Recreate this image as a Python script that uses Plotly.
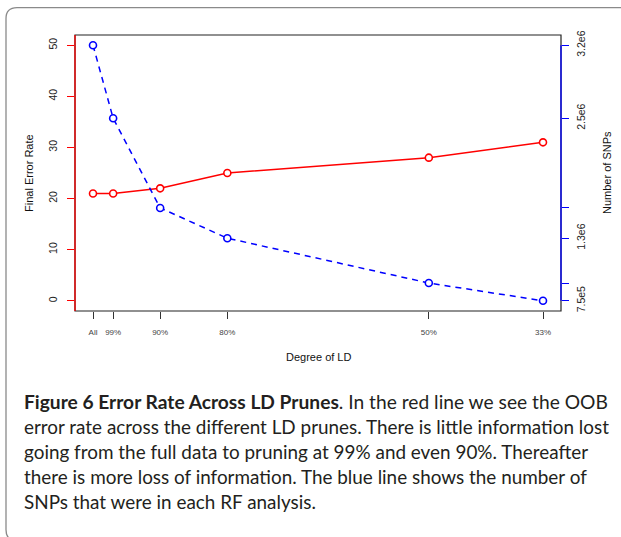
import plotly.graph_objects as go

# ---- data ----
ld_labels = ["All", "99%", "90%", "80%", "50%", "33%"]
ld_pos = [0, 3, 10, 20, 50, 67]          # horizontal placement used in the original plot
error_rate = [21, 21, 22, 25, 28, 31]
n_snps = [3.2e6, 2.5e6, 1.64e6, 1.35e6, 0.92e6, 0.75e6]
snp_tick_text = ["3.2e6", "2.5e6", "", "1.3e6", "", "7.5e5"]

W, H = 621, 537
L, R, T, B = 75, 561, 34.7, 311


def px(x):
    return (x - L) / (R - L)


def py(y):
    return (B - y) / (B - T)


fig = go.Figure()
fig.add_trace(go.Scatter(
    x=ld_pos, y=error_rate, mode="lines+markers", yaxis="y",
    line=dict(color="#ff0000", width=1.5),
    marker=dict(symbol="circle", size=7, color="white",
                line=dict(color="#ff0000", width=1.6)),
    showlegend=False, cliponaxis=False))
fig.add_trace(go.Scatter(
    x=ld_pos, y=n_snps, mode="lines+markers", yaxis="y2",
    line=dict(color="#0000ff", width=1.5, dash="6px,5px"),
    marker=dict(symbol="circle", size=7, color="white",
                line=dict(color="#0000ff", width=1.6)),
    showlegend=False, cliponaxis=False))

snp_lo, snp_hi = min(n_snps), max(n_snps)
pad = (snp_hi - snp_lo) * 0.04
xpad = (max(ld_pos) - min(ld_pos)) * 0.04

tick_font = dict(family="Liberation Sans, Arial, sans-serif", size=10.5, color="#222")

fig.update_layout(
    width=W, height=H, autosize=False,
    margin=dict(l=L, r=W - R, t=T, b=H - B, pad=0),
    paper_bgcolor="white", plot_bgcolor="white",
    xaxis=dict(range=[min(ld_pos) - xpad, max(ld_pos) + xpad],
               tickvals=ld_pos, ticktext=ld_labels,
               showgrid=False, zeroline=False, showline=False,
               ticks="outside", ticklen=7, tickwidth=1, tickcolor="#333",
               tickfont=dict(family="Liberation Sans, Arial, sans-serif", size=8, color="#444"),
               ticklabelstandoff=6),
    yaxis=dict(range=[-2, 52], tickvals=[0, 10, 20, 30, 40, 50],
               showgrid=False, zeroline=False, showline=False,
               ticks="outside", ticklen=7, tickwidth=1.2, tickcolor="#ff0000",
               tickangle=-90, tickfont=tick_font, ticklabelstandoff=6),
    yaxis2=dict(range=[snp_lo - pad, snp_hi + pad], overlaying="y", side="right",
                tickvals=n_snps, ticktext=snp_tick_text,
                showgrid=False, zeroline=False, showline=False,
                ticks="outside", ticklen=7, tickwidth=1.2, tickcolor="#0000ff",
                tickangle=-90, tickfont=tick_font, ticklabelstandoff=3),
)

shapes = [
    dict(type="rect", xref="paper", yref="paper", x0=0, x1=1, y0=0, y1=1,
         line=dict(color="#222", width=1.2), layer="above"),
    dict(type="line", xref="paper", yref="paper", x0=0, x1=0, y0=0, y1=1,
         line=dict(color="#ff0000", width=1.3), layer="above"),
    dict(type="line", xref="paper", yref="y2", x0=1, x1=1, y0=snp_lo, y1=snp_hi,
         line=dict(color="#0000ff", width=1.3), layer="above"),
]
# outer rounded border of the figure panel
bx0, by0, bx1, by1, r = 6, 7.3, 640, 541, 11
path = (f"M {px(bx1)},{py(by0)} L {px(bx0 + r)},{py(by0)} "
        f"Q {px(bx0)},{py(by0)} {px(bx0)},{py(by0 + r)} "
        f"L {px(bx0)},{py(by1 - r)} Q {px(bx0)},{py(by1)} {px(bx0 + r)},{py(by1)} "
        f"L {px(bx1)},{py(by1)}")
shapes.append(dict(type="path", xref="paper", yref="paper", path=path, layer="above",
                   line=dict(color="#8a8a8a", width=1.3)))
fig.update_layout(shapes=shapes)

title_font = dict(family="Liberation Sans, Arial, sans-serif", size=11, color="#111")
ann = [
    dict(text="Final Error Rate", x=px(29), y=py((T + B) / 2), textangle=-90),
    dict(text="Number of SNPs", x=px(607), y=py((T + B) / 2), textangle=-90),
    dict(text="Degree of LD", x=px((L + R) / 2), y=py(357), textangle=0),
]
annotations = [dict(a, xref="paper", yref="paper", showarrow=False,
                    xanchor="center", yanchor="middle", font=title_font) for a in ann]

caption = [
    "<b>Figure 6 Error Rate Across LD Prunes</b>. In the red line we see the OOB",
    "error rate across the different LD prunes. There is little information lost",
    "going from the full data to pruning at 99% and even 90%. Thereafter",
    "there is more loss of information. The blue line shows the number of",
    "SNPs that were in each RF analysis.",
]
cap_size = [19.2, 18.9, 18.9, 18.9, 18.9]
cap_y = [402, 427, 452, 477, 502]
for line, yy, fs in zip(caption, cap_y, cap_size):
    annotations.append(dict(text=line, xref="paper", yref="paper", x=px(22), y=py(yy),
                            xanchor="left", yanchor="middle", showarrow=False,
                            font=dict(family="Lato, sans-serif", size=fs, color="#231f20")))
fig.update_layout(annotations=annotations)

fig.write_html("out.html", config={"displayModeBar": False},
               post_script="document.body.style.margin='0';")
